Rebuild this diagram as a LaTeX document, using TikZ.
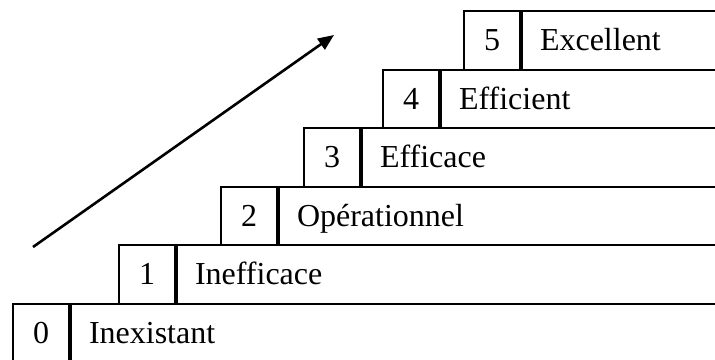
\documentclass[tikz,border=0pt]{standalone}
\usepackage{fontspec}
\setmainfont{Liberation Serif}
\usetikzlibrary{arrows.meta}
\begin{document}
\begin{tikzpicture}[x=0.5pt,y=-0.5pt,
  cell/.style={draw=black,line width=1pt,anchor=north west,minimum height=29.25pt,
    font=\fontsize{16}{19}\selectfont,text height=10.6pt,text depth=0pt,inner sep=0pt},
  numbox/.style={cell,minimum width=28pt},
  labbox/.style={cell,text width=400pt,align=left,inner xsep=9pt},
  growth/.style={line width=1.3pt,-{Triangle[length=8pt,width=6.5pt]}}]
\useasboundingbox (0,0) rectangle (715,359);
\clip (0,0) rectangle (715,359);
\node[numbox] (n0) at (12,302.5) {0};
\node[labbox] (t0) at (n0.north east) {Inexistant};
\node[numbox] (n1) at (118,244) {1};
\node[labbox] (t1) at (n1.north east) {Inefficace};
\node[numbox] (n2) at (220,185.5) {2};
\node[labbox] (t2) at (n2.north east) {Opérationnel};
\node[numbox] (n3) at (303,127) {3};
\node[labbox] (t3) at (n3.north east) {Efficace};
\node[numbox] (n4) at (382,68.5) {4};
\node[labbox] (t4) at (n4.north east) {Efficient};
\node[numbox] (n5) at (463,10) {5};
\node[labbox] (t5) at (n5.north east) {Excellent};
\coordinate (a0) at (33,247);
\coordinate (a1) at (334,35);
\draw[growth] (a0) -- (a1);
\end{tikzpicture}
\end{document}
